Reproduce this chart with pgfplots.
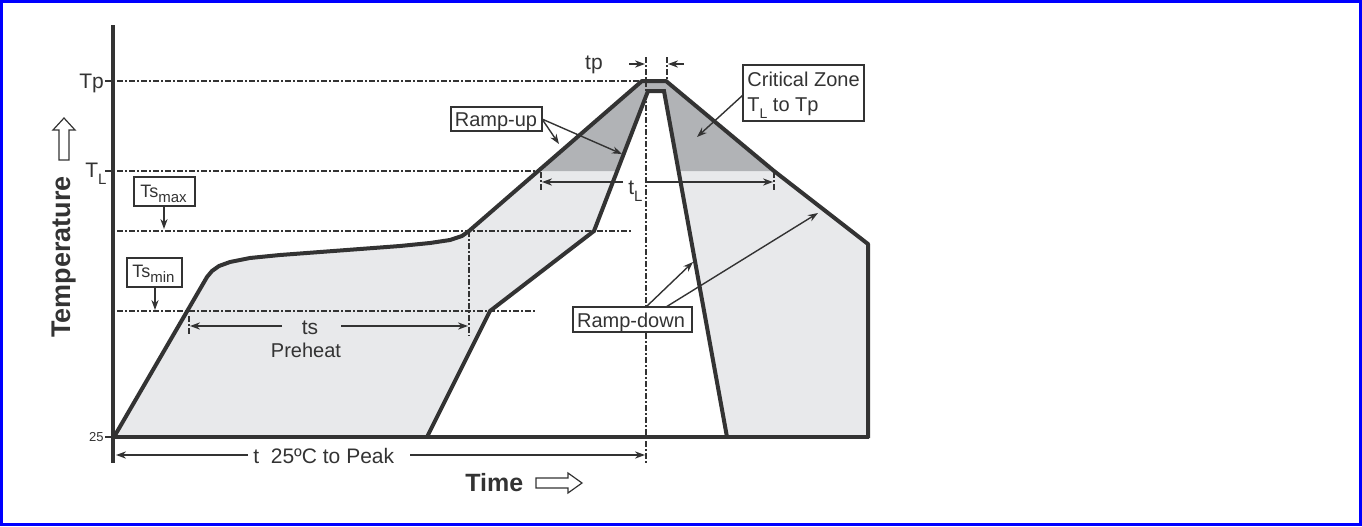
\documentclass[border=0pt]{standalone}
\usepackage{fontspec}
\setmainfont{Liberation Sans}
\usepackage{pgfplots}
\pgfplotsset{compat=1.18}
\usetikzlibrary{arrows.meta}

\definecolor{ink}{HTML}{333333}
\definecolor{lightfill}{HTML}{E8E9EB}
\definecolor{zonefill}{HTML}{B1B3B6}
\definecolor{frameblue}{HTML}{0000FF}
\newcommand{\fs}[1]{\fontsize{#1}{#1}\selectfont}

\begin{document}
\begin{tikzpicture}[
  dd/.style={ink, line width=0.6pt, dash pattern=on 3pt off 1pt on 1pt off 1pt},
  ar/.style={ink, line width=0.7pt, -{Stealth[length=5pt,width=3.6pt]}},
  lbl/.style={ink, inner sep=0pt},
  box/.style={draw=ink, line width=0.7pt, fill=white}
]
\begin{axis}[
  scale only axis, width=681pt, height=263pt,
  xmin=0, xmax=1362, ymin=0, ymax=526, y dir=reverse,
  axis lines=none, xtick=\empty, ytick=\empty, clip=false
]
\coordinate (bl) at (0,526);
\coordinate (tr) at (1362,0);

% shaded process window
\addplot[draw=none, fill=lightfill] coordinates {
  (115,437) (207,277) (212,271) (219,266) (230,262) (250,258) (280,255)
  (320,252) (360,249) (400,246) (430,243) (450,240) (462,236) (469,231)
  (642,81) (666,81) (774,171) (868,244) (868,437) (727,437) (664,91)
  (648,91) (594,231) (490,311) (427,437)} -- cycle;
% critical zone TL to Tp
\addplot[draw=none, fill=zonefill] coordinates {
  (539,171) (642,81) (666,81) (774,171) (679,171) (664,91) (648,91) (617,171)} -- cycle;

% reference levels
\draw[dd] (117,81) -- (640,81);
\draw[dd] (117,171) -- (540,171);
\draw[dd] (117,231) -- (631,231);
\draw[dd] (117,311) -- (537,311);
\draw[dd] (646,57) -- (646,463);
\draw[dd] (667,57) -- (667,81);
\draw[dd] (469,231) -- (469,336);
\draw[dd] (189,316) -- (189,334);
\draw[dd] (541,172) -- (541,190);
\draw[dd] (774,172) -- (774,190);

% axes
\draw[ink, line width=2.4pt] (113,25) -- (113,463);
\draw[ink, line width=1pt] (105,81) -- (113,81);
\draw[ink, line width=1pt] (105,171) -- (113,171);
\draw[ink, line width=1pt] (105,437) -- (113,437);

% profiles
\addplot[ink, line width=2pt, line join=round] coordinates {
  (114,437) (207,277) (212,271) (219,266) (230,262) (250,258) (280,255)
  (320,252) (360,249) (400,246) (430,243) (450,240) (462,236) (469,231)
  (642,81) (666,81) (774,171) (868,244) (868,438)};
\addplot[ink, line width=2pt, line join=miter] coordinates {
  (427,437) (490,311) (594,231) (648,91) (664,91) (727,437)};
\addplot[ink, line width=2.4pt] coordinates {(113,437) (869,437)};

% time spans
\draw[ar] (282,326) -- (190,326);
\draw[ar] (341,326) -- (468,326);
\draw[ar] (248,455) -- (116,455);
\draw[ar] (410,455) -- (645,455);
\draw[ar] (623,182) -- (542,182);
\draw[ar] (647,182) -- (773,182);
\draw[ar] (629,64) -- (645,64);
\draw[ar] (684,64) -- (668,64);

% callouts
\draw[box] (134,177) rectangle (195,206);
\draw[ar] (164,206) -- (164,229);
\draw[box] (127,258) rectangle (182,287);
\draw[ar] (155,287) -- (155,310);
\draw[ar] (542,119) -- (559,144);
\draw[ar] (542,119) -- (622,154);
\draw[box] (451,107) rectangle (542,131);
\draw[ar] (743,95) -- (697,137);
\draw[box] (743,65) rectangle (864,121);
\draw[ar] (646,307) -- (693,262);
\draw[ar] (666,307) -- (818,213);
\draw[box] (573,307) rectangle (692,332);

% texts
\node[lbl, font=\fs{10.5}, anchor=base west] at (79,88) {Tp};
\node[lbl, font=\fs{10.5}, anchor=base west] at (85,177) {T\raisebox{-0.35em}{\fs{7.5}L}};
\node[lbl, font=\fs{6.5}, anchor=east] at (104,437) {25};
\node[lbl, font=\fs{9}, anchor=base west] at (140,197) {Ts\raisebox{-0.3em}{\fs{7.5}max}};
\node[lbl, font=\fs{9}, anchor=base west] at (132,277) {Ts\raisebox{-0.3em}{\fs{7.5}min}};
\node[lbl, font=\fs{10}, anchor=base] at (496,126) {Ramp-up};
\node[lbl, font=\fs{10}, anchor=base west] at (747,86) {Critical Zone};
\node[lbl, font=\fs{10}, anchor=base west] at (747,111) {T\raisebox{-0.35em}{\fs{7}L} to Tp};
\node[lbl, font=\fs{10}, anchor=base] at (631,327) {Ramp-down};
\node[lbl, font=\fs{10.5}, anchor=base] at (594,69) {tp};
\node[lbl, font=\fs{10.5}, anchor=base west] at (628,194) {t\raisebox{-0.35em}{\fs{7.5}L}};
\node[lbl, font=\fs{10.5}, anchor=base] at (310,334) {ts};
\node[lbl, font=\fs{10}, anchor=base] at (306,357) {Preheat};
\node[lbl, font=\fs{10.5}, anchor=base west] at (253,463) {t\ \ 25ºC to Peak};
\node[lbl, font=\fs{12.5}\bfseries, anchor=base west] at (465,491) {Time};
\node[lbl, font=\fs{13.5}\bfseries, rotate=90] at (64,257) {Temperature};

% hollow direction arrows
\draw[ink, line width=0.6pt, fill=white, line join=miter]
  (536,478) -- (568,478) -- (568,473) -- (582,483) -- (568,493) -- (568,488) -- (536,488) -- cycle;
\draw[ink, line width=0.6pt, fill=white, line join=miter]
  (59,160) -- (69,160) -- (69,130) -- (75,130) -- (64,118) -- (53,130) -- (59,130) -- cycle;

% frame
\draw[frameblue, line width=1.5pt] (1.5,1.5) rectangle (1360.5,524.5);
\end{axis}
\pgfresetboundingbox
\path (bl) rectangle (tr);
\end{tikzpicture}
\end{document}
